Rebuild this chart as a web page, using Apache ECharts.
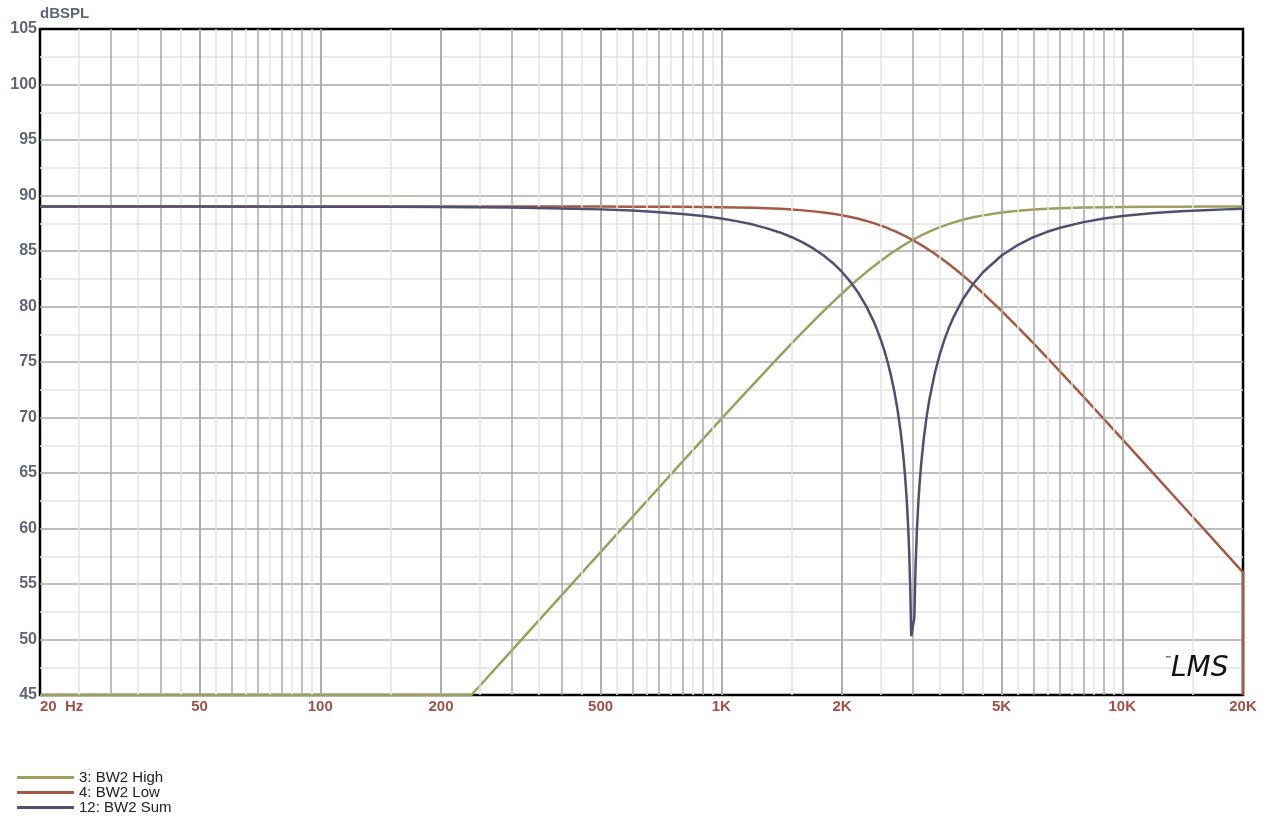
<!DOCTYPE html>
<html>
<head>
<meta charset="utf-8">
<style>
html,body{margin:0;padding:0;background:#fff;}
#c{width:1270px;height:826px;}
</style>
<script src="https://cdn.jsdelivr.net/npm/echarts@6/dist/echarts.min.js"></script>
</head>
<body>
<div id="c"></div>
<script>
// ---- data ----
const freq = [20, 50, 100, 150, 200, 238, 250, 300, 400, 500, 600, 700, 800, 900, 1000, 1100, 1200, 1300, 1400, 1500, 1600, 1700, 1800, 1900, 2000, 2100, 2200, 2300, 2400, 2450, 2500, 2550, 2600, 2650, 2700, 2750, 2800, 2825, 2850, 2875, 2900, 2920, 2940, 2960, 2976, 3030, 3050, 3075, 3100, 3125, 3150, 3200, 3250, 3300, 3400, 3500, 3600, 3700, 3800, 4000, 4250, 4500, 5000, 5500, 6000, 6500, 7000, 8000, 9000, 10000, 12000, 14000, 16000, 18000, 20000];
const high = [45, 45, 45, 45, 45, 45, 45.83, 49.0, 54.0, 57.87, 61.03, 63.71, 66.02, 68.05, 69.87, 71.49, 72.97, 74.32, 75.56, 76.70, 77.74, 78.71, 79.60, 80.42, 81.17, 81.87, 82.51, 83.10, 83.63, 83.88, 84.12, 84.35, 84.57, 84.78, 84.98, 85.17, 85.35, 85.44, 85.52, 85.60, 85.69, 85.75, 85.81, 85.87, 85.92, 86.07, 86.13, 86.20, 86.27, 86.33, 86.39, 86.51, 86.63, 86.74, 86.95, 87.13, 87.29, 87.44, 87.58, 87.81, 88.04, 88.21, 88.47, 88.63, 88.74, 88.81, 88.86, 88.92, 88.95, 88.96, 88.98, 88.99, 89.0, 89.0, 89.0];
const low = [89, 89, 89, 89, 89, 89, 89, 89, 89, 89, 88.99, 88.99, 88.98, 88.97, 88.95, 88.92, 88.89, 88.85, 88.80, 88.74, 88.66, 88.57, 88.47, 88.35, 88.22, 88.07, 87.90, 87.71, 87.51, 87.40, 87.29, 87.18, 87.06, 86.93, 86.81, 86.68, 86.55, 86.48, 86.41, 86.34, 86.27, 86.22, 86.16, 86.11, 86.06, 85.90, 85.85, 85.77, 85.70, 85.62, 85.55, 85.39, 85.24, 85.08, 84.77, 84.45, 84.12, 83.80, 83.47, 82.81, 81.99, 81.17, 79.60, 78.10, 76.70, 75.38, 74.14, 71.88, 69.86, 68.05, 64.90, 62.23, 59.92, 57.87, 56.04];
const lowTail = [45];
const sum = [89.0, 89.0, 88.99, 88.98, 88.96, 88.95, 88.94, 88.91, 88.84, 88.75, 88.64, 88.50, 88.34, 88.15, 87.92, 87.67, 87.38, 87.04, 86.67, 86.24, 85.76, 85.21, 84.59, 83.90, 83.11, 82.22, 81.19, 80.01, 78.64, 77.85, 76.99, 76.04, 74.98, 73.77, 72.39, 70.75, 68.75, 67.56, 66.19, 64.58, 62.61, 60.64, 58.11, 54.57, 50.3, 51.96, 56.37, 59.86, 62.32, 64.22, 65.76, 68.17, 70.03, 71.53, 73.85, 75.60, 76.99, 78.14, 79.09, 80.63, 82.05, 83.11, 84.59, 85.56, 86.24, 86.73, 87.09, 87.60, 87.92, 88.15, 88.42, 88.58, 88.68, 88.75, 88.80];

const seriesNames = ['3: BW2 High', '4: BW2 Low', '12: BW2 Sum'];
const seriesColors = ['#9ba15c', '#a45a45', '#4f4f72'];

const xTickValues = [20, 50, 100, 200, 500, 1000, 2000, 5000, 10000, 20000];
const xTickLabels = ['20  Hz', '50', '100', '200', '500', '1K', '2K', '5K', '10K', '20K'];
const gridMajorFreqs = [30, 40, 50, 60, 70, 80, 90, 100, 200, 300, 400, 500, 600, 700, 800, 900, 1000, 2000, 3000, 4000, 5000, 6000, 7000, 8000, 9000, 10000];
const gridMinorFreqs = [25, 35, 45, 55, 65, 75, 85, 95, 150, 250, 350, 450, 550, 650, 750, 850, 950, 1500, 2500, 3500, 4500, 5500, 6500, 7500, 8500, 9500, 15000];

// ---- chart ----
const FONT = '"Liberation Sans", Arial, sans-serif';
const MAJOR = '#a9a9a9', MINOR = '#e3e3e3';
const XLAB = '#a2504a', YLAB = '#5d6576';

const markData = [];
gridMinorFreqs.forEach(v => markData.push({ xAxis: v, lineStyle: { color: MINOR, width: 1.5, type: 'solid' }, label: { show: false } }));
gridMajorFreqs.forEach(v => markData.push({ xAxis: v, lineStyle: { color: MAJOR, width: 1.5, type: 'solid' }, label: { show: false } }));
xTickValues.forEach((v, i) => {
  const isEdge = (v === 20 || v === 20000);
  const item = { xAxis: v, label: { show: true, position: 'start', formatter: xTickLabels[i], color: XLAB, fontWeight: 'bold', fontSize: 15, fontFamily: FONT, distance: 4, opacity: 1 } };
  if (i === 0) item.label.align = 'left';
  if (isEdge) item.lineStyle = { width: 0, color: MAJOR };
  else item.lineStyle = { color: MAJOR, width: 1.5, type: 'solid' };
  markData.push(item);
});

const pairs = (xs, vals) => xs.map((f, i) => [f, vals[i]]);
const lowPairs = pairs(freq, low).concat(lowTail.map(v => [freq[freq.length - 1], v]));

const chart = echarts.init(document.getElementById('c'), null, { renderer: 'canvas' });
chart.setOption({
  animation: false,
  backgroundColor: '#fff',
  title: {
    text: '{tm|™}{l|LMS}',
    left: 1160, top: 650,
    textStyle: {
      rich: {
        tm: { fontSize: 6, color: '#222', verticalAlign: 'top', padding: [0, 0, 14, 0] },
        l: { fontSize: 28, fontStyle: 'italic', fontFamily: '"DejaVu Sans", sans-serif', fontWeight: 'normal', color: '#111' }
      }
    }
  },
  legend: {
    orient: 'vertical', left: 12, top: 765,
    itemWidth: 57, itemHeight: 3, itemGap: 0, icon: 'rect',
    data: seriesNames,
    textStyle: { fontFamily: FONT, fontSize: 15, color: '#222', lineHeight: 13.5 },
    selectedMode: false
  },
  grid: {
    left: 40, right: 27, top: 29, bottom: 131,
    show: true, borderColor: '#000', borderWidth: 2.5, backgroundColor: '#fff'
  },
  xAxis: {
    type: 'log', logBase: 10, min: 20, max: 20000,
    axisLine: { show: false }, axisTick: { show: false },
    axisLabel: { show: false }, splitLine: { show: false }
  },
  yAxis: {
    type: 'value', min: 45, max: 105, interval: 5,
    name: 'dBSPL', nameLocation: 'end', nameGap: 8,
    nameTextStyle: { align: 'left', color: YLAB, fontWeight: 'bold', fontSize: 15, fontFamily: FONT },
    axisLine: { show: false }, axisTick: { show: false },
    axisLabel: { color: YLAB, fontWeight: 'bold', fontSize: 16, fontFamily: FONT, margin: 3 },
    splitLine: { show: true, showMinLine: false, showMaxLine: false, lineStyle: { color: MAJOR, width: 1.5 } },
    minorTick: { show: false, splitNumber: 2 },
    minorSplitLine: { show: true, lineStyle: { color: MINOR, width: 1.5 } }
  },
  series: [
    {
      name: '__grid', type: 'line', data: [], z: 1, silent: true,
      markLine: { silent: true, symbol: ['none', 'none'], animation: false, label: { show: false }, data: markData }
    },
    {
      name: seriesNames[0], type: 'line', data: pairs(freq, high), z: 3, clip: false,
      showSymbol: false, symbol: 'none',
      lineStyle: { color: seriesColors[0], width: 2.5 }, itemStyle: { color: seriesColors[0] }
    },
    {
      name: seriesNames[1], type: 'line', data: lowPairs, z: 4, clip: false,
      showSymbol: false, symbol: 'none',
      lineStyle: { color: seriesColors[1], width: 2.5 }, itemStyle: { color: seriesColors[1] }
    },
    {
      name: seriesNames[2], type: 'line', data: pairs(freq, sum), z: 5, clip: false,
      showSymbol: false, symbol: 'none',
      lineStyle: { color: seriesColors[2], width: 2.5 }, itemStyle: { color: seriesColors[2] }
    }
  ]
});
</script>
</body>
</html>
